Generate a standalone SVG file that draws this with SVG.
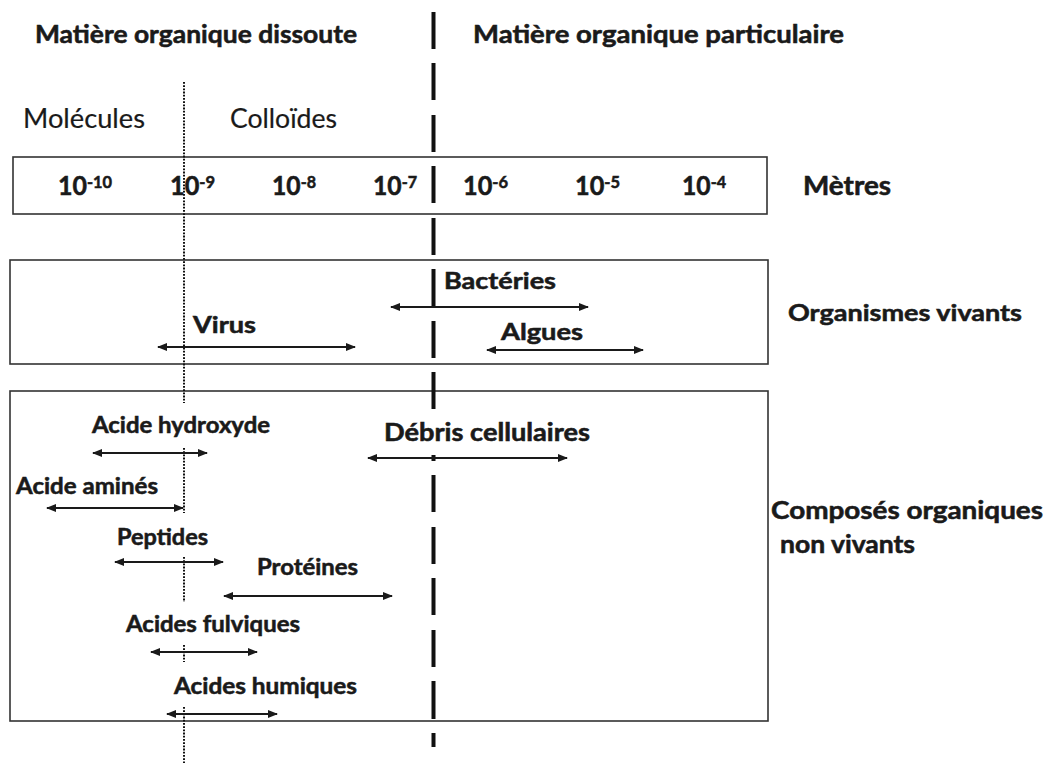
<svg xmlns="http://www.w3.org/2000/svg" width="1050" height="763" viewBox="0 0 1050 763">
<defs>
<style>
.b{font-family:Lato,'Open Sans','Liberation Sans',sans-serif;font-weight:bold;fill:#1a1a1a;stroke:#1a1a1a;stroke-width:0.55px}
.r{font-family:Lato,'Open Sans','Liberation Sans',sans-serif;font-weight:normal;fill:#1a1a1a;stroke:#1a1a1a;stroke-width:0.2px}
.n{font-size:26px}
.sup{font-size:17px}
.box{fill:none;stroke:#333;stroke-width:1.6}
.arr{stroke:#1a1a1a;stroke-width:2;fill:none;marker-start:url(#ah);marker-end:url(#ah)}
.dash{stroke:#111;stroke-width:4}
.dot{stroke:#111;stroke-width:2;stroke-dasharray:1.8 1.4}
</style>
<marker id="ah" viewBox="0 0 10 8" refX="9" refY="4" markerWidth="10" markerHeight="8" markerUnits="userSpaceOnUse" orient="auto-start-reverse">
<path d="M0,0 L10,4 L0,8 z" fill="#1a1a1a"/>
</marker>
</defs>
<rect width="1050" height="763" fill="#fff"/>

<g id="headers">
<text class="b" x="35" y="43" font-size="25" textLength="322" lengthAdjust="spacingAndGlyphs">Matière organique dissoute</text>
<text class="b" x="473" y="43" font-size="25" textLength="371" lengthAdjust="spacingAndGlyphs">Matière organique particulaire</text>
<text class="r" x="23" y="128" font-size="26" textLength="122" lengthAdjust="spacingAndGlyphs">Molécules</text>
<text class="r" x="230" y="128" font-size="26" textLength="107" lengthAdjust="spacingAndGlyphs">Colloïdes</text>
</g>

<g id="scale">
<rect class="box" x="13" y="157" width="754" height="57"/>
<text class="b n" x="58" y="195" textLength="54" lengthAdjust="spacingAndGlyphs">10<tspan class="sup" dy="-7">-10</tspan></text>
<text class="b n" x="170" y="195" textLength="45" lengthAdjust="spacingAndGlyphs">10<tspan class="sup" dy="-7">-9</tspan></text>
<text class="b n" x="272" y="195" textLength="44" lengthAdjust="spacingAndGlyphs">10<tspan class="sup" dy="-7">-8</tspan></text>
<text class="b n" x="373" y="195" textLength="44" lengthAdjust="spacingAndGlyphs">10<tspan class="sup" dy="-7">-7</tspan></text>
<text class="b n" x="463" y="195" textLength="45" lengthAdjust="spacingAndGlyphs">10<tspan class="sup" dy="-7">-6</tspan></text>
<text class="b n" x="575" y="195" textLength="45" lengthAdjust="spacingAndGlyphs">10<tspan class="sup" dy="-7">-5</tspan></text>
<text class="b n" x="682" y="195" textLength="44" lengthAdjust="spacingAndGlyphs">10<tspan class="sup" dy="-7">-4</tspan></text>
<text class="b" x="803" y="195" font-size="26" textLength="88" lengthAdjust="spacingAndGlyphs">Mètres</text>
</g>

<g id="organismes">
<rect class="box" x="10" y="260" width="758" height="104"/>
<text class="b" x="444" y="289" font-size="23" textLength="112" lengthAdjust="spacingAndGlyphs">Bactéries</text>
<text class="b" x="193" y="333" font-size="23" textLength="63" lengthAdjust="spacingAndGlyphs">Virus</text>
<text class="b" x="501" y="340" font-size="23" textLength="82" lengthAdjust="spacingAndGlyphs">Algues</text>
<text class="b" x="788" y="321" font-size="23" textLength="234" lengthAdjust="spacingAndGlyphs">Organismes vivants</text>
</g>

<g id="composes">
<rect class="box" x="10" y="391" width="758" height="330"/>
<text class="b" x="92" y="433" font-size="23" textLength="178" lengthAdjust="spacingAndGlyphs">Acide hydroxyde</text>
<text class="b" x="384" y="441" font-size="24" textLength="206" lengthAdjust="spacingAndGlyphs">Débris cellulaires</text>
<text class="b" x="16" y="494" font-size="23" textLength="142" lengthAdjust="spacingAndGlyphs">Acide aminés</text>
<text class="b" x="117" y="545" font-size="23" textLength="91" lengthAdjust="spacingAndGlyphs">Peptides</text>
<text class="b" x="257" y="575" font-size="23" textLength="101" lengthAdjust="spacingAndGlyphs">Protéines</text>
<text class="b" x="126" y="632" font-size="23" textLength="174" lengthAdjust="spacingAndGlyphs">Acides fulviques</text>
<text class="b" x="174" y="694" font-size="23" textLength="183" lengthAdjust="spacingAndGlyphs">Acides humiques</text>
<text class="b" x="771" y="519" font-size="24" textLength="272" lengthAdjust="spacingAndGlyphs">Composés organiques</text>
<text class="b" x="780" y="553" font-size="24" textLength="135" lengthAdjust="spacingAndGlyphs">non vivants</text>
</g>

<g id="dividers">
<path class="dot" d="M184,82V403 M184,448V513 M184,557V602 M184,645V662 M184,707V763"/>
<path class="dash" d="M433.5,12V49 M433.5,63V100 M433.5,115V152 M433.5,166V203 M433.5,218V255 M433.5,269V307 M433.5,321V358 M433.5,372V409 M433.5,455V461 M433.5,475V512 M433.5,527V564 M433.5,578V615 M433.5,630V667 M433.5,681V719 M433.5,733V747"/>
</g>

<g id="connectors">
<line class="arr" x1="391" y1="307" x2="588" y2="307"/>
<line class="arr" x1="158" y1="347" x2="355" y2="347"/>
<line class="arr" x1="487" y1="350" x2="643" y2="350"/>
<line class="arr" x1="93" y1="453" x2="207" y2="453"/>
<line class="arr" x1="368" y1="458" x2="567" y2="458"/>
<line class="arr" x1="47" y1="508" x2="183" y2="508"/>
<line class="arr" x1="115" y1="562" x2="223" y2="562"/>
<line class="arr" x1="224" y1="596" x2="392" y2="596"/>
<line class="arr" x1="151" y1="652" x2="257" y2="652"/>
<line class="arr" x1="167" y1="714" x2="277" y2="714"/>
</g>
</svg>
